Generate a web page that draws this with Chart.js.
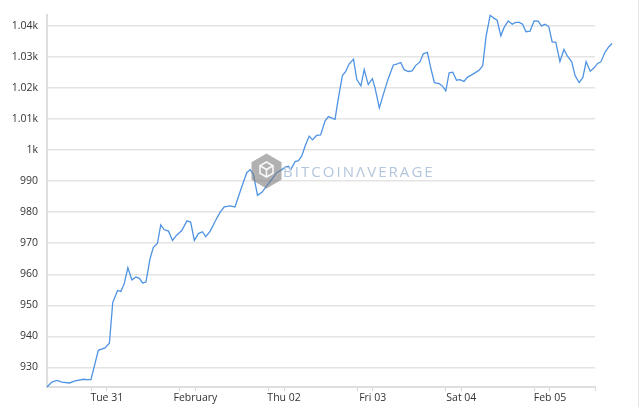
<!DOCTYPE html>
<html>
<head>
<meta charset="utf-8">
<script src="https://cdn.jsdelivr.net/npm/chart.js@4/dist/chart.umd.min.js"></script>
<style>
  html, body { margin: 0; padding: 0; background: #ffffff; }
  #wrap { position: relative; width: 640px; height: 407px; overflow: hidden; }
  #chart { position: absolute; left: 0; top: 0; }
  #rightline { position: absolute; left: 638px; top: 0; width: 1px; height: 407px; background: #e6e6e6; }
  #wm-logo { position: absolute; left: 251px; top: 153px; width: 31px; height: 36px; }
  #wm-text { position: absolute; left: 283px; top: 164px; font-family: "Open Sans", sans-serif; font-size: 15px; line-height: 15px; letter-spacing: 2.05px; color: #b3c6dd; white-space: nowrap; }
</style>
</head>
<body>
<div id="wrap">
  <canvas id="chart" width="640" height="407"></canvas>
  <svg id="wm-logo" viewBox="0 0 31 36">
    <polygon points="15.5,0.5 30.5,9.25 30.5,26.75 15.5,35.5 0.5,26.75 0.5,9.25" fill="rgba(125,125,125,0.6)"/>
    <g fill="none" stroke="rgba(255,255,255,0.9)" stroke-width="1.6">
      <polygon points="15.5,9 22,12.75 22,20.25 15.5,24 9,20.25 9,12.75"/>
      <polyline points="9,12.75 15.5,16.5 22,12.75"/>
      <line x1="15.5" y1="16.5" x2="15.5" y2="24"/>
    </g>
  </svg>
  <span id="wm-text">BITCOINΛVERAGE</span>
  <div id="rightline"></div>
</div>
<script>
// Hours relative to Tue 31 Jan 00:00
const hours = [-16.2,-14.9,-13.5,-12.2,-10.1,-8.6,-6.3,-5.4,-4.3,-2.3,
  -0.5,0.7,1.6,2.9,3.8,4.7,5.7,6.8,7.9,8.8,
  9.7,10.6,11.7,12.6,13.7,14.6,15.5,16.7,17.8,18.9,
  20.3,21.7,22.7,23.7,24.8,25.9,26.8,28.0,29.3,30.7,
  31.8,33.4,34.7,
  36.5,37.9,38.8,39.7,40.8,42.0,43.3,44.7,46.0,47.4,
  48.3,49.2,49.8,51.0,51.9,52.8,53.7,54.8,55.7,56.8,
  57.9,59.1,60.0,61.8,62.7,63.8,64.7,65.6,66.8,67.7,
  68.8,69.7,70.8,71.9,72.6,73.8,74.9,76.2,77.6,78.5,
  79.6,80.5,81.6,82.7,83.6,84.8,85.7,86.8,
  87.8,88.7,90.0,90.9,91.8,92.7,93.7,94.7,95.6,96.7,
  97.7,98.8,100.0,100.9,101.8,102.7,103.8,104.8,105.7,106.7,
  107.6,108.7,109.8,110.7,111.7,112.6,113.5,114.6,115.7,116.8,
  117.7,118.7,119.7,120.6,121.6,122.7,123.8,124.7,125.9,126.8,
  127.9,128.9,129.8,130.9,131.9,132.9,133.8,134.9,135.9,136.8];

const prices = [923.7,925.3,925.8,925.3,925.0,925.7,926.2,926.1,926.1,935.5,
  936.3,937.8,950.9,954.8,954.5,956.9,962.1,958.2,959.1,958.7,
  957.2,957.5,965.0,968.7,969.9,975.9,974.4,973.9,970.9,972.6,
  974.1,977.2,976.8,970.9,973.1,973.7,972.1,973.9,977.0,980.0,
  981.7,982.0,981.7,
  988.0,992.7,993.7,992.2,985.4,986.4,988.5,990.6,992.7,993.7,
  994.5,994.8,993.7,996.3,996.6,998.1,1001.3,1004.5,1003.3,1004.7,
  1004.9,1009.4,1010.8,1009.9,1016.7,1024.0,1025.3,1027.7,1029.3,1022.7,
  1020.7,1025.9,1021.1,1023.0,1020.2,1013.6,1018.0,1023.0,1027.4,1027.7,
  1028.2,1025.9,1025.3,1025.5,1027.2,1028.4,1031.0,1031.5,
  1026.1,1021.7,1021.4,1020.6,1019.1,1024.9,1025.1,1022.5,1022.7,1022.1,
  1023.5,1024.2,1025.1,1025.8,1027.2,1036.6,1043.4,1042.5,1041.8,1036.8,
  1039.5,1041.6,1040.5,1041.1,1041.1,1040.5,1038.1,1038.3,1041.6,1041.5,
  1040.0,1040.5,1039.7,1034.8,1034.7,1028.5,1032.4,1030.3,1028.4,1024.0,
  1021.7,1023.3,1028.5,1025.4,1026.4,1027.9,1028.4,1031.5,1033.2,1034.3];

const xTickHours = [0, 24, 48, 72, 96, 120];
const xTickLabels = ["Tue 31", "February", "Thu 02", "Fri 03", "Sat 04", "Feb 05"];
const xMinorTickHours = [-4.2, 19.8, 43.8, 67.8, 91.8, 115.8, 132.2];
const yTickValues = [930, 940, 950, 960, 970, 980, 990, 1000, 1010, 1020, 1030, 1040];
const yTickLabels = ["930", "940", "950", "960", "970", "980", "990", "1k", "1.01k", "1.02k", "1.03k", "1.04k"];
const xRange = [-16.2, 132.2];
const yRange = [923.7, 1043.4];

const points = hours.map((h, i) => ({ x: h, y: prices[i] }));
const fontSpec = { family: "'Open Sans', sans-serif", size: 10.5 };

new Chart(document.getElementById('chart'), {
  type: 'line',
  data: {
    datasets: [{
      data: points,
      borderColor: '#4f93e3',
      borderWidth: 1.3,
      pointRadius: 0,
      tension: 0,
      fill: false,
      clip: false
    }]
  },
  options: {
    responsive: false,
    devicePixelRatio: 1,
    animation: false,
    layout: { padding: { top: 5, right: 45, left: 0, bottom: 0 } },
    plugins: { legend: { display: false }, tooltip: { enabled: false } },
    scales: {
      x: {
        type: 'linear',
        bounds: 'data',
        afterDataLimits: (s) => { s.min = xRange[0]; s.max = xRange[1]; },
        afterBuildTicks: (s) => {
          s.min = xRange[0]; s.max = xRange[1];
          s.ticks = xMinorTickHours.concat(xTickHours).sort((a, b) => a - b).map(v => ({ value: v }));
        },
        afterFit: (s) => { s.height = 20; },
        ticks: {
          autoSkip: false,
          maxRotation: 0,
          padding: 1,
          color: '#333333',
          font: fontSpec,
          callback: (v) => {
            const i = xTickHours.indexOf(v);
            return i >= 0 ? xTickLabels[i] : '';
          }
        },
        grid: { drawOnChartArea: false, drawTicks: true, tickLength: 4, tickColor: '#d6d6d6', tickWidth: 1 },
        border: { display: true, color: '#dedede', width: 2 }
      },
      y: {
        type: 'linear',
        min: yRange[0],
        max: yRange[1],
        afterBuildTicks: (s) => { s.ticks = yTickValues.map(v => ({ value: v })); },
        afterFit: (s) => { s.width = 47; },
        ticks: {
          padding: 9,
          color: '#333333',
          font: fontSpec,
          callback: (v) => {
            const i = yTickValues.indexOf(v);
            return i >= 0 ? yTickLabels[i] : '';
          }
        },
        grid: { drawTicks: false, color: '#e4e4e4', lineWidth: 1.5 },
        border: { display: true, color: '#dedede', width: 2 }
      }
    }
  }
});
</script>
</body>
</html>
